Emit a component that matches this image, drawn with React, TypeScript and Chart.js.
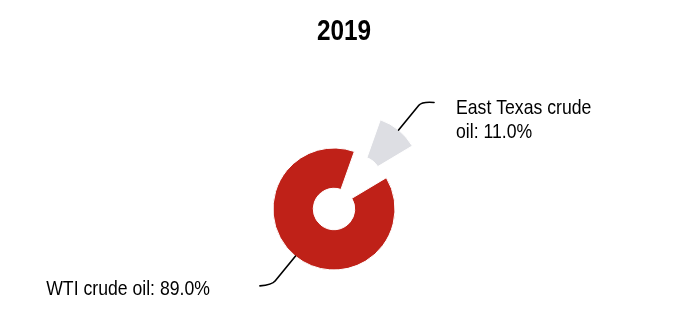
import React, { useEffect, useRef } from 'react';
import { Chart, registerables } from 'chart.js';

Chart.register(...registerables);

const chartTitle = '2019';
const categories = ['East Texas crude oil', 'WTI crude oil'];
const shares = [11.0, 89.0];

const sliceColors = ['#DDDEE3', '#BF2118'];
const sliceShift = [41, 0];

const FONT = '"Liberation Sans Narrow", "Arial Narrow", "Liberation Sans", Arial, sans-serif';
const NARROW = 0.84; // horizontal condensing to mimic a narrow face

function wrapText(ctx: CanvasRenderingContext2D, text: string, maxWidth: number): string[] {
  const words = text.split(' ');
  const lines: string[] = [];
  let cur = '';
  for (const w of words) {
    const t = cur ? cur + ' ' + w : w;
    if (cur && ctx.measureText(t).width * NARROW > maxWidth) {
      lines.push(cur);
      cur = w;
    } else cur = t;
  }
  if (cur) lines.push(cur);
  return lines;
}

function narrowText(ctx: CanvasRenderingContext2D, text: string, x: number, y: number) {
  ctx.save();
  ctx.translate(x, y);
  ctx.scale(NARROW, 1);
  ctx.fillText(text, 0, 0);
  ctx.restore();
}

const explodePlugin = {
  id: 'explode',
  beforeDatasetDraw(chart: any, args: any) {
    const ctx = chart.ctx;
    args.meta.data.forEach((arc: any, i: number) => {
      const shift = sliceShift[i] || 0;
      const mid = (arc.startAngle + arc.endAngle) / 2;
      ctx.save();
      ctx.translate(Math.cos(mid) * shift, Math.sin(mid) * shift);
      arc.draw(ctx, chart.chartArea);
      ctx.restore();
    });
    return false;
  },
};

const calloutPlugin = {
  id: 'callouts',
  afterDraw(chart: any) {
    const ctx: CanvasRenderingContext2D = chart.ctx;
    // title
    ctx.save();
    ctx.fillStyle = '#000';
    ctx.font = `bold 29px ${FONT}`;
    ctx.textAlign = 'center';
    ctx.textBaseline = 'middle';
    narrowText(ctx, chartTitle, chart.width / 2 - 2, 24);
    ctx.restore();

    const meta = chart.getDatasetMeta(0);
    meta.data.forEach((arc: any, i: number) => {
      const shift = sliceShift[i] || 0;
      const mid = (arc.startAngle + arc.endAngle) / 2;
      const cos = Math.cos(mid);
      const sin = Math.sin(mid);
      const r = arc.outerRadius + shift;
      const sx = arc.x + cos * r;
      const sy = arc.y + sin * r;
      const side = cos >= 0 ? 1 : -1;
      const L = 37;
      const ax = sx + cos * (L - 8);
      const ay = sy + sin * (L - 8);
      const bx = sx + cos * L;
      const by = sy + sin * L;
      const ex = bx + side * 12;
      const ey = by + 1;

      ctx.save();
      ctx.strokeStyle = '#000';
      ctx.lineWidth = 1.6;
      ctx.lineCap = 'round';
      ctx.beginPath();
      ctx.moveTo(sx, sy);
      ctx.bezierCurveTo(sx + cos * (L * 0.45), sy + sin * (L * 0.45), ax, ay, ax + cos * 3, ay + sin * 3);
      ctx.quadraticCurveTo(bx, by, ex, ey);
      ctx.stroke();

      ctx.fillStyle = '#000';
      ctx.font = `21px ${FONT}`;
      ctx.textBaseline = 'middle';
      const text = `${categories[i]}: ${shares[i].toFixed(1)}%`;
      if (side > 0) {
        ctx.textAlign = 'left';
        const lines = wrapText(ctx, text, 150);
        lines.forEach((ln, k) => narrowText(ctx, ln, ex + 22, ey + 6 + k * 24));
      } else {
        ctx.textAlign = 'right';
        narrowText(ctx, text, ex - 50, ey + 3);
      }
      ctx.restore();
    });
  },
};

export default function App() {
  const canvasRef = useRef<HTMLCanvasElement>(null);

  useEffect(() => {
    if (!canvasRef.current) return;
    const chart = new Chart(canvasRef.current, {
      type: 'doughnut',
      data: {
        labels: categories,
        datasets: [
          {
            data: shares,
            backgroundColor: sliceColors,
            borderColor: '#ffffff',
            borderWidth: 1,
            hoverOffset: 0,
          },
        ],
      },
      options: {
        responsive: true,
        maintainAspectRatio: false,
        animation: false,
        rotation: 19.5,
        radius: 61,
        cutout: '34%',
        layout: { padding: { top: 98, right: 24, bottom: 0, left: 0 } },
        plugins: {
          legend: { display: false },
          tooltip: { enabled: false },
          title: { display: false },
        },
        events: [],
      },
      plugins: [explodePlugin, calloutPlugin],
    });
    return () => chart.destroy();
  }, []);

  return (
    <div style={{ position: 'relative', width: 676, height: 304 }}>
      <canvas ref={canvasRef} />
    </div>
  );
}
